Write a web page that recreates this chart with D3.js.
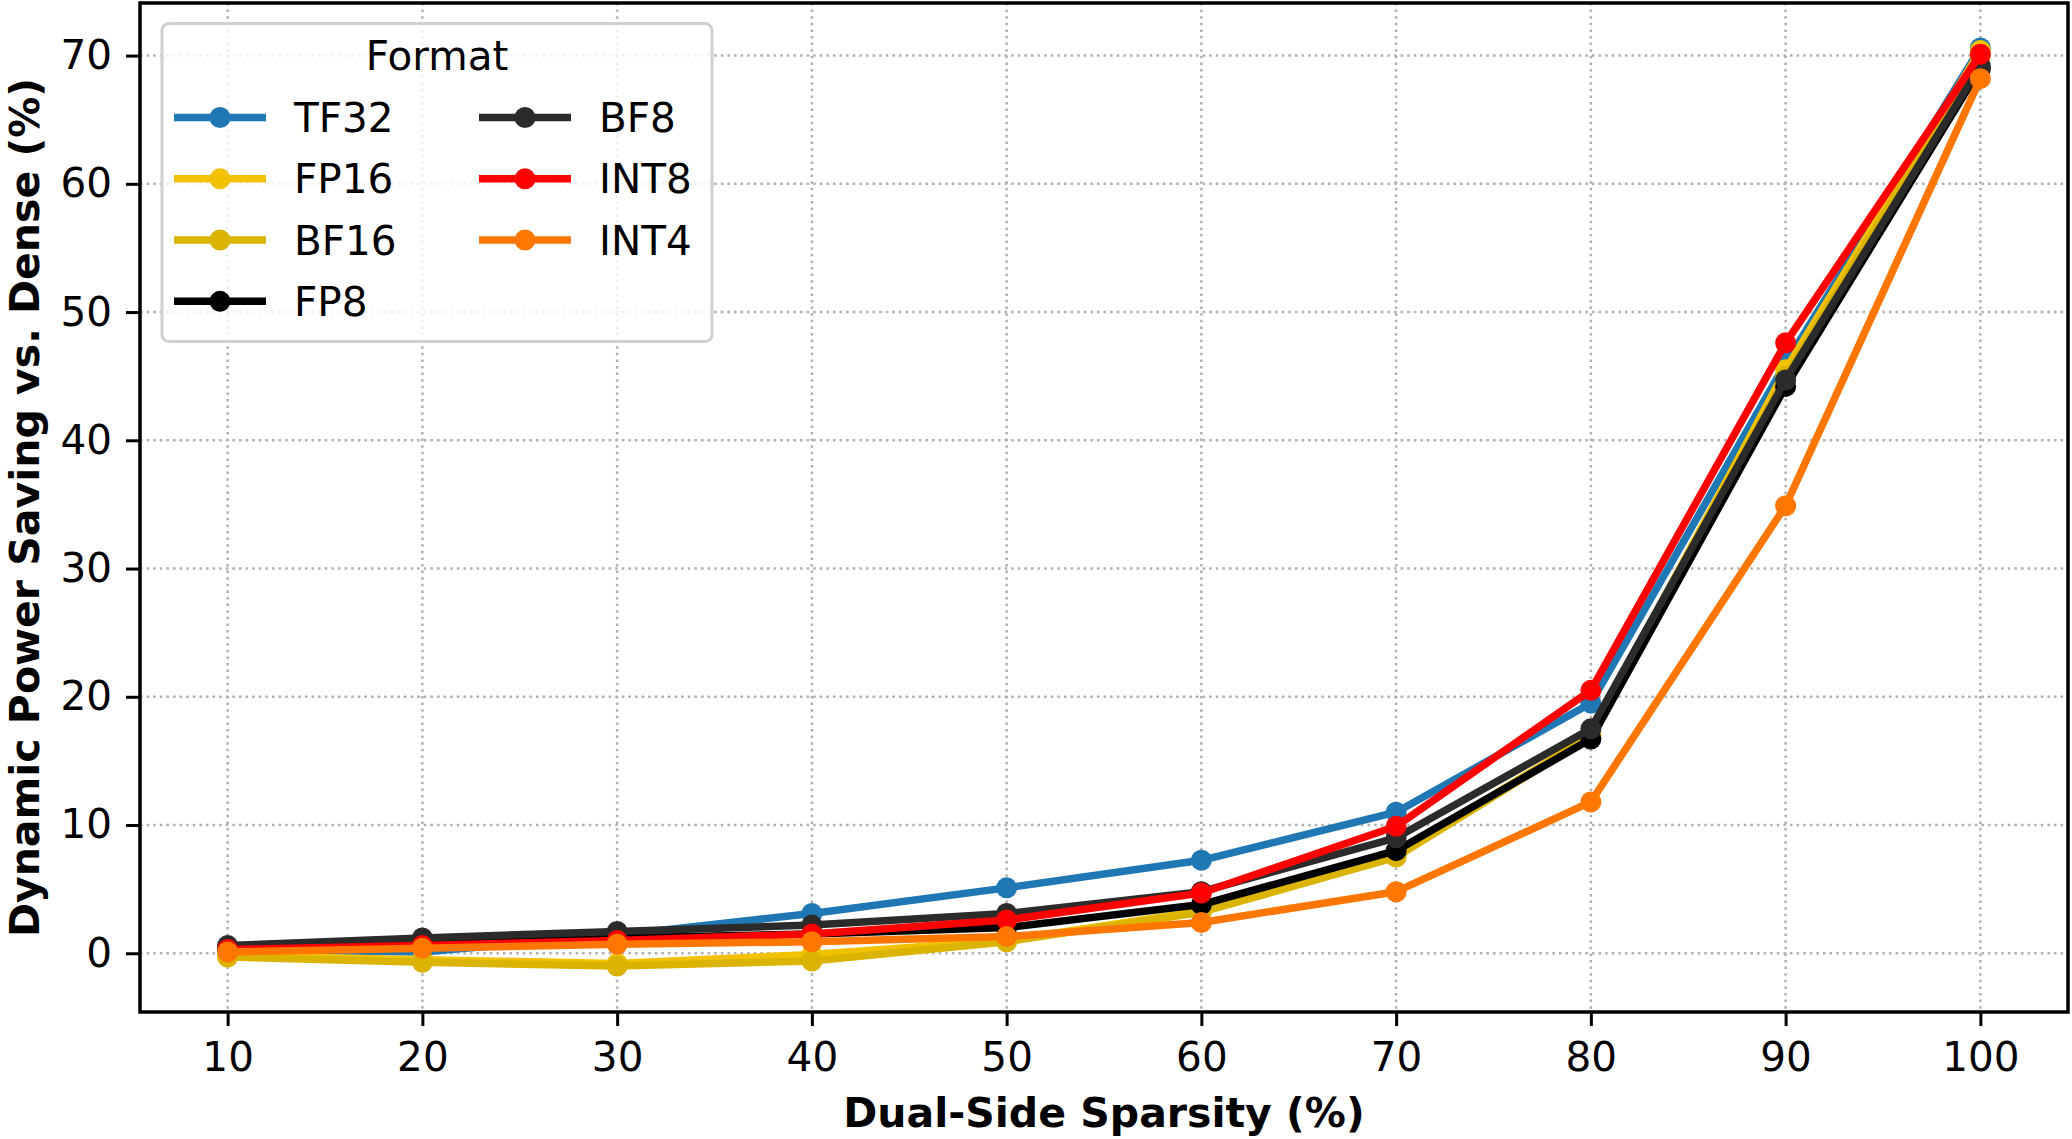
<!DOCTYPE html>
<html>
<head>
<meta charset="utf-8">
<script src="https://cdn.jsdelivr.net/npm/d3@7"></script>
<style>
  html, body { margin: 0; padding: 0; background: #fff; }
  svg { display: block; }
  text { font-family: "DejaVu Sans", sans-serif; }
</style>
</head>
<body>
<svg id="chart" width="2072" height="1139"></svg>
<script>
// ---- data ----
const sparsity = [10, 20, 30, 40, 50, 60, 70, 80, 90, 100];
const formats = ["TF32", "FP16", "BF16", "FP8", "BF8", "INT8", "INT4"];
const tf32 = [0.3, 0.1, 1.4, 3.1, 5.1, 7.25, 11.0, 19.5, 46.0, 70.6];
const fp16 = [-0.2, -0.5, -0.8, -0.1, 1.0, 3.3, 7.7, 17.0, 45.5, 70.4];
const bf16 = [-0.3, -0.7, -1.0, -0.6, 0.9, 3.2, 7.5, 16.9, 45.0, 70.0];
const fp8 = [0.4, 0.8, 1.2, 1.5, 2.0, 3.8, 8.0, 16.7, 44.2, 69.0];
const bf8 = [0.6, 1.2, 1.7, 2.2, 3.1, 4.8, 9.0, 17.5, 44.7, 69.2];
const int8 = [0.3, 0.6, 1.0, 1.5, 2.6, 4.7, 9.9, 20.5, 47.6, 70.1];
const int4 = [0.1, 0.4, 0.7, 0.9, 1.3, 2.4, 4.8, 11.8, 34.9, 68.2];
const seriesValues = [tf32, fp16, bf16, fp8, bf8, int8, int4];
const colors = ["#1f77b4", "#f2c200", "#dab400", "#000000", "#2b2b2b", "#ff0000", "#ff7700"];
const xTicks = [10, 20, 30, 40, 50, 60, 70, 80, 90, 100];
const yTicks = [0, 10, 20, 30, 40, 50, 60, 70];
const xTitle = "Dual-Side Sparsity (%)";
const yTitle = "Dynamic Power Saving vs. Dense (%)";
const legendTitle = "Format";

// ---- layout ----
const svg = d3.select("#chart");
const L = 140, R = 2068, T = 3, B = 1012;
const x = d3.scaleLinear().domain([5.5, 104.5]).range([L, R]);
const y = d3.scaleLinear().domain([-4.58, 74.1]).range([B, T]);
const FS = 40.5;
const FST = 41;

// grid
const grid = svg.append("g");
grid.selectAll("line.gx").data(xTicks).enter().append("line")
  .attr("x1", d => x(d)).attr("x2", d => x(d)).attr("y1", T).attr("y2", B)
  .attr("stroke", "#b0b0b0").attr("stroke-width", 2.5).attr("stroke-dasharray", "2.5,4.1");
grid.selectAll("line.gy").data(yTicks).enter().append("line")
  .attr("x1", L).attr("x2", R).attr("y1", d => y(d)).attr("y2", d => y(d))
  .attr("stroke", "#b0b0b0").attr("stroke-width", 2.5).attr("stroke-dasharray", "2.5,4.1");

// series
const line = d3.line().x((d, i) => x(sparsity[i])).y(d => y(d));
formats.forEach((f, k) => {
  const g = svg.append("g");
  g.append("path").datum(seriesValues[k]).attr("d", line)
    .attr("fill", "none").attr("stroke", colors[k]).attr("stroke-width", 7.5)
    .attr("stroke-linejoin", "round").attr("stroke-linecap", "butt");
  g.selectAll("circle").data(seriesValues[k]).enter().append("circle")
    .attr("cx", (d, i) => x(sparsity[i])).attr("cy", d => y(d)).attr("r", 10.5)
    .attr("fill", colors[k]);
});

// axes
const xAxis = svg.append("g").attr("transform", `translate(0,${B})`)
  .call(d3.axisBottom(x).tickValues(xTicks).tickSize(14).tickPadding(16).tickFormat(d3.format("d")));
const yAxis = svg.append("g").attr("transform", `translate(${L},0)`)
  .call(d3.axisLeft(y).tickValues(yTicks).tickSize(14).tickPadding(14).tickFormat(d3.format("d")));
[xAxis, yAxis].forEach(a => {
  a.select(".domain").remove();
  a.selectAll(".tick line").attr("stroke", "#000").attr("stroke-width", 3);
  a.selectAll(".tick text").attr("font-size", FS).attr("font-family", "DejaVu Sans").attr("fill", "#000");
});
// frame
svg.append("rect").attr("x", L).attr("y", T).attr("width", R - L).attr("height", B - T)
  .attr("fill", "none").attr("stroke", "#000").attr("stroke-width", 3.5);

// axis titles
svg.append("text").attr("x", (L + R) / 2).attr("y", 1127).attr("text-anchor", "middle")
  .attr("font-size", FST).attr("font-weight", "bold").text(xTitle);
svg.append("text").attr("transform", `translate(38.5,${(T + B) / 2}) rotate(-90)`)
  .attr("text-anchor", "middle").attr("font-size", FST).attr("font-weight", "bold").text(yTitle);

// legend
const lg = svg.append("g");
lg.append("rect").attr("x", 162).attr("y", 23.5).attr("width", 550).attr("height", 318)
  .attr("rx", 7).attr("fill", "#fff").attr("fill-opacity", 0.8)
  .attr("stroke", "#d0d0d0").attr("stroke-width", 3);
lg.append("text").attr("x", 437).attr("y", 70).attr("text-anchor", "middle")
  .attr("font-size", FS).text(legendTitle);
const colX = [174, 479];
const rowY = [117.5, 178.8, 240, 301.3];
formats.forEach((f, k) => {
  const col = k < 4 ? 0 : 1;
  const row = k < 4 ? k : k - 4;
  const x0 = colX[col], yy = rowY[row];
  lg.append("line").attr("x1", x0).attr("x2", x0 + 92).attr("y1", yy).attr("y2", yy)
    .attr("stroke", colors[k]).attr("stroke-width", 7.5);
  lg.append("circle").attr("cx", x0 + 46).attr("cy", yy).attr("r", 10.5).attr("fill", colors[k]);
  lg.append("text").attr("x", x0 + 120).attr("y", yy + 14.5).attr("font-size", FS).text(f);
});
</script>
</body>
</html>
